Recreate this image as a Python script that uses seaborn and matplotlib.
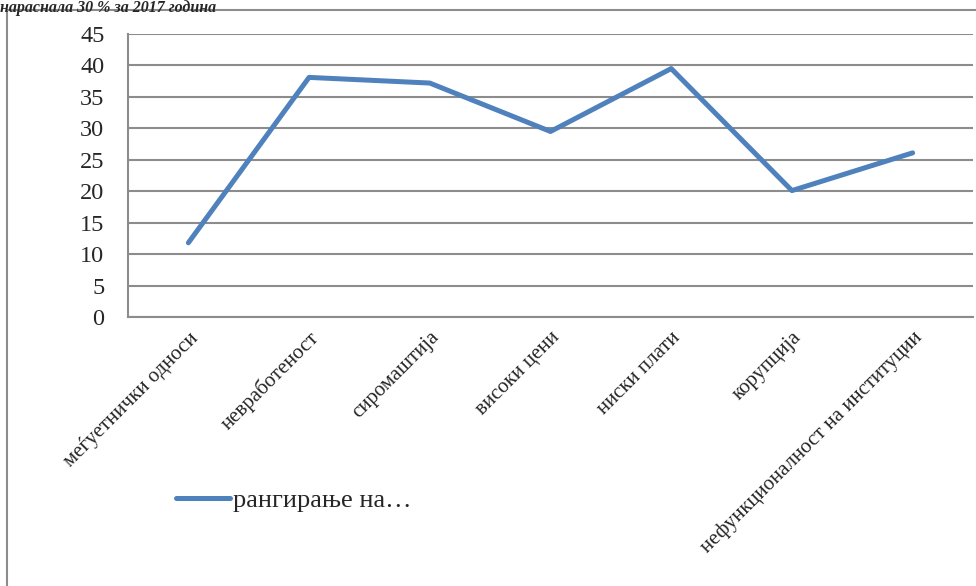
import matplotlib
matplotlib.use('Agg')
import matplotlib.pyplot as plt
import seaborn as sns
import pandas as pd
from matplotlib.patches import Rectangle
from matplotlib.lines import Line2D

# Categories and values
categories = ['меѓуетнички односи', 'невработеност', 'сиромаштија', 'високи цени',
              'ниски плати', 'корупција', 'нефункционалност на институции']
values = [11.8, 38.1, 37.2, 29.5, 39.5, 20.1, 26.1]
series_name = 'рангирање на…'
y_ticks = [0, 5, 10, 15, 20, 25, 30, 35, 40, 45]

df = pd.DataFrame({'category': categories, 'value': values})

sns.set_style('white')
plt.rcParams['font.family'] = ['Liberation Serif', 'DejaVu Serif']

fig = plt.figure(figsize=(9.76, 5.86), dpi=100)
ax = fig.add_axes([128 / 976, 1 - 317 / 586, (973 - 128) / 976, (317 - 34) / 586])

line_color = '#4F81BD'
grid_color = '#8C8C8C'

sns.lineplot(data=df, x='category', y='value', ax=ax, color=line_color,
             linewidth=3.6, solid_capstyle='round', sort=False)

ax.set_xlim(-0.5, len(categories) - 0.5)
ax.set_ylim(0, 45)
ax.set_yticks(y_ticks)
ax.set_yticklabels([str(t) for t in y_ticks], fontsize=17.5)
ax.yaxis.grid(True, color=grid_color, linewidth=1.5)
ax.set_axisbelow(True)

# tick marks between categories, labels at the category centres
ax.set_xticks([i - 0.5 for i in range(len(categories) + 1)])
ax.set_xticklabels([])
ax.set_xticks(range(len(categories)), minor=True)
ax.set_xticklabels(categories, minor=True, rotation=45, ha='right',
                   rotation_mode='anchor', fontsize=15)
ax.tick_params(axis='x', which='major', length=5, width=1.5, color=grid_color, direction='out')
ax.tick_params(axis='x', which='minor', length=0, pad=8)
ax.tick_params(axis='y', length=5, width=1.5, color=grid_color, direction='out', pad=12)

for side in ['top', 'right']:
    ax.spines[side].set_visible(False)
for side in ['left', 'bottom']:
    ax.spines[side].set_color(grid_color)
    ax.spines[side].set_linewidth(1.5)

ax.set_xlabel('')
ax.set_ylabel('')
if ax.get_legend():
    ax.get_legend().remove()

# legend below the plot, like the original
handle = Line2D([0], [0], color=line_color, linewidth=3.6, solid_capstyle='round')
fig.legend([handle], [series_name], loc='center left', bbox_to_anchor=(176 / 976, 1 - 500 / 586),
           frameon=False, fontsize=19, handlelength=2.05, handletextpad=0.12, borderaxespad=0,
           borderpad=0)

# chart frame (only left and top edges fall inside the picture)
fig.patches.append(Rectangle((7 / 976, -0.2), 1.2, 1.2 - 10 / 586, transform=fig.transFigure,
                             fill=False, edgecolor='#8C8C8C', linewidth=1.5, zorder=0))

# caption from the surrounding document
fig.text(0.0, 1 - 8 / 586, 'нараснала 30 % за 2017 година', fontsize=11.5,
         fontstyle='italic', fontweight='bold', va='center', ha='left')

fig.savefig('out.png', dpi=100)
